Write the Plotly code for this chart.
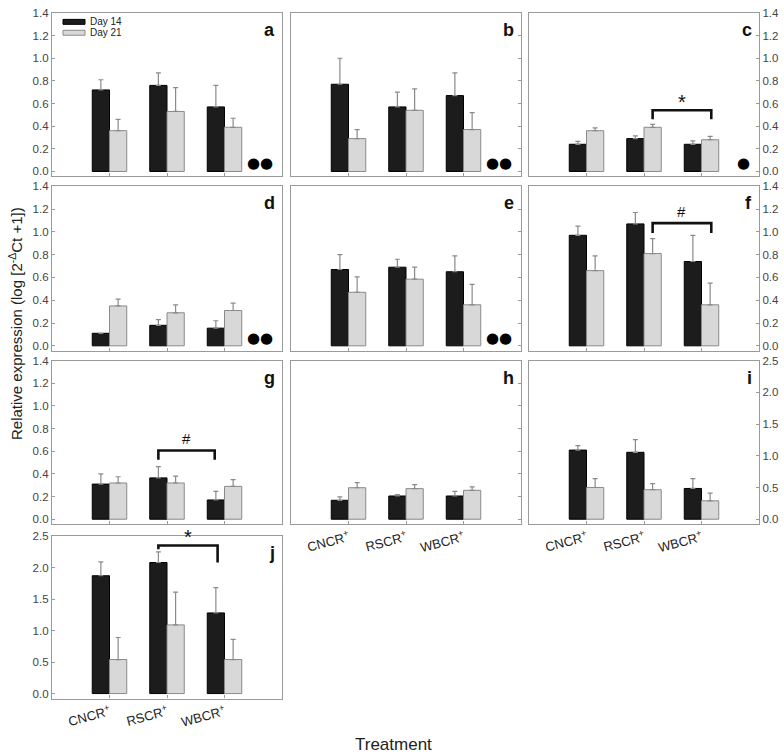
import plotly.graph_objects as go

W, H = 784, 756

# ---------------- data ----------------
tick_text = ["CNCR<sup>+</sup>", "RSCR<sup>+</sup>", "WBCR<sup>+</sup>"]
positions = [0, 1, 2]

a_d14 = [0.72, 0.76, 0.57]; a_d14_err = [0.09, 0.11, 0.19]
a_d21 = [0.36, 0.53, 0.39]; a_d21_err = [0.10, 0.21, 0.08]
b_d14 = [0.77, 0.57, 0.67]; b_d14_err = [0.23, 0.13, 0.20]
b_d21 = [0.29, 0.54, 0.37]; b_d21_err = [0.08, 0.19, 0.15]
c_d14 = [0.24, 0.29, 0.24]; c_d14_err = [0.025, 0.025, 0.03]
c_d21 = [0.36, 0.39, 0.28]; c_d21_err = [0.025, 0.025, 0.03]
d_d14 = [0.11, 0.18, 0.155]; d_d14_err = [0.0, 0.05, 0.065]
d_d21 = [0.35, 0.29, 0.31]; d_d21_err = [0.06, 0.07, 0.065]
e_d14 = [0.67, 0.69, 0.65]; e_d14_err = [0.13, 0.07, 0.14]
e_d21 = [0.47, 0.585, 0.36]; e_d21_err = [0.135, 0.105, 0.18]
f_d14 = [0.97, 1.07, 0.74]; f_d14_err = [0.08, 0.10, 0.23]
f_d21 = [0.66, 0.81, 0.36]; f_d21_err = [0.13, 0.13, 0.19]
g_d14 = [0.31, 0.365, 0.17]; g_d14_err = [0.09, 0.10, 0.075]
g_d21 = [0.32, 0.32, 0.29]; g_d21_err = [0.055, 0.06, 0.06]
h_d14 = [0.167, 0.205, 0.205]; h_d14_err = [0.03, 0.012, 0.04]
h_d21 = [0.278, 0.27, 0.255]; h_d21_err = [0.045, 0.035, 0.03]
i_d14 = [1.09, 1.055, 0.485]; i_d14_err = [0.07, 0.20, 0.155]
i_d21 = [0.50, 0.465, 0.29]; i_d21_err = [0.14, 0.095, 0.12]
j_d14 = [1.87, 2.08, 1.28]; j_d14_err = [0.22, 0.17, 0.40]
j_d21 = [0.54, 1.09, 0.54]; j_d21_err = [0.35, 0.52, 0.32]

panel_letters = ["a", "b", "c", "d", "e", "f", "g", "h", "i", "j"]
panel_data = [
    (a_d14, a_d14_err, a_d21, a_d21_err),
    (b_d14, b_d14_err, b_d21, b_d21_err),
    (c_d14, c_d14_err, c_d21, c_d21_err),
    (d_d14, d_d14_err, d_d21, d_d21_err),
    (e_d14, e_d14_err, e_d21, e_d21_err),
    (f_d14, f_d14_err, f_d21, f_d21_err),
    (g_d14, g_d14_err, g_d21, g_d21_err),
    (h_d14, h_d14_err, h_d21, h_d21_err),
    (i_d14, i_d14_err, i_d21, i_d21_err),
    (j_d14, j_d14_err, j_d21, j_d21_err),
]
panel_ymax = [1.4, 1.4, 1.4, 1.4, 1.4, 1.4, 1.4, 1.4, 2.5, 2.5]
panel_dots = ["●●", "●●", "●", "●●", "●●", "", "", "", "", ""]
panel_xlabels = [False] * 7 + [True, True, True]

# significance brackets: (panel index, x_left, x_right, y_bar, y_left_leg, y_right_leg, symbol)
brackets = [
    (2, 1.15, 2.17, 0.54, 0.46, 0.46, "*"),
    (5, 1.15, 2.17, 1.077, 0.99, 0.99, "#"),
    (6, 0.85, 1.83, 0.607, 0.525, 0.525, "#"),
    (9, 0.85, 1.88, 2.35, 2.29, 2.08, "*"),
]

# ---------------- layout geometry (pixels) ----------------
col_px = [(52, 282), (291, 521), (529, 759)]
row_px = [(7, 172), (182, 348), (358, 523), (535, 699)]
cells = [(0, 0), (0, 1), (0, 2), (1, 0), (1, 1), (1, 2), (2, 0), (2, 1), (2, 2), (3, 0)]


def px_x(p):
    return p / W


def px_y(p):
    return 1 - p / H


FONT = "Liberation Sans, Arial, sans-serif"
FRAME = "#9a9a9a"
BLACK = "#1c1c1c"
GREY = "#d8d8d8"

fig = go.Figure()
layout = dict(
    width=W, height=H, margin=dict(l=0, r=0, t=0, b=0),
    paper_bgcolor="white", plot_bgcolor="white",
    barmode="group", bargap=0.4, bargroupgap=0.0,
    showlegend=False, font=dict(family=FONT, color="#333"),
)
annotations = []
shapes = []

for k, (letter, data) in enumerate(zip(panel_letters, panel_data)):
    n = k + 1
    xa = "x" if n == 1 else f"x{n}"
    ya = "y" if n == 1 else f"y{n}"
    r, c = cells[k]
    d14, d14e, d21, d21e = data
    ymax = panel_ymax[k]
    fig.add_trace(go.Bar(
        x=positions, y=d14, xaxis=xa, yaxis=ya, name="Day 14",
        marker=dict(color=BLACK, line=dict(color="#000", width=1)),
        error_y=dict(type="data", symmetric=False, array=d14e,
                     arrayminus=[0] * 3, color="#8a8a8a", thickness=1.2, width=2.5),
    ))
    fig.add_trace(go.Bar(
        x=positions, y=d21, xaxis=xa, yaxis=ya, name="Day 21",
        marker=dict(color=GREY, line=dict(color="#8a8a8a", width=1)),
        error_y=dict(type="data", symmetric=False, array=d21e,
                     arrayminus=[0] * 3, color="#8a8a8a", thickness=1.2, width=2.5),
    ))
    x0, x1 = col_px[c]
    y0, y1 = row_px[r]
    frame_h = y1 - y0
    unit = (frame_h - 5) / ymax
    ymin = -5 / unit
    key_x = "xaxis" if n == 1 else f"xaxis{n}"
    key_y = "yaxis" if n == 1 else f"yaxis{n}"
    layout[key_x] = dict(
        domain=[px_x(x0), px_x(x1)], anchor=ya, range=[-1, 3],
        tickvals=positions, ticktext=tick_text, ticks="inside", ticklen=3,
        tickcolor=FRAME, showline=True, linecolor=FRAME, linewidth=1.3, mirror=True,
        showgrid=False, zeroline=False, showticklabels=panel_xlabels[k],
        tickangle=-15, tickfont=dict(size=13, color="#222", family=FONT),
    )
    side = "left" if c == 0 else "right"
    dtick = 0.2 if ymax == 1.4 else 0.5
    layout[key_y] = dict(
        domain=[px_y(y1), px_y(y0)], anchor=xa, range=[ymin, ymax],
        tick0=0, dtick=dtick, tickformat=".1f", ticks="inside", ticklen=3,
        tickcolor=FRAME, showline=True, linecolor=FRAME, linewidth=1.3, mirror=True,
        showgrid=False, zeroline=False, showticklabels=(c != 1), side=side,
        tickfont=dict(size=11.5, color="#444", family=FONT),
    )
    # panel letter
    annotations.append(dict(
        text=f"<b>{letter}</b>", xref=f"{xa} domain", yref=f"{ya} domain",
        x=1, y=1, xanchor="right", yanchor="top", xshift=-5, yshift=-5,
        showarrow=False, font=dict(size=18, color="#111", family=FONT),
    ))
    if panel_dots[k]:
        annotations.append(dict(
            text=panel_dots[k], xref=f"{xa} domain", yref=f"{ya} domain",
            x=1, y=0, xanchor="right", yanchor="bottom", xshift=-7, yshift=2,
            showarrow=False, font=dict(size=15, color="#000", family="DejaVu Sans"),
        ))

for (k, xl, xr, yb, yll, ylr, sym) in brackets:
    n = k + 1
    xa = "x" if n == 1 else f"x{n}"
    ya = "y" if n == 1 else f"y{n}"
    shapes.append(dict(
        type="path", xref=xa, yref=ya,
        path=f"M {xl},{yll} L {xl},{yb} L {xr},{yb} L {xr},{ylr}",
        line=dict(color="#111", width=2.6),
    ))
    is_star = sym == "*"
    annotations.append(dict(
        text=sym, xref=xa, yref=ya, x=(xl + xr) / 2, y=yb, yanchor="bottom",
        yshift=(-5 if is_star else 1), showarrow=False,
        font=dict(size=(20 if is_star else 15), color="#111", family=FONT),
    ))

# legend inside panel a
legend_items = [("Day 14", BLACK, "#000", 16), ("Day 21", GREY, "#8a8a8a", 27)]
for label, fill, edge, yc in legend_items:
    shapes.append(dict(
        type="rect", xref="paper", yref="paper",
        x0=px_x(63), x1=px_x(85), y0=px_y(yc + 2.5), y1=px_y(yc - 2.5),
        fillcolor=fill, line=dict(color=edge, width=1),
    ))
    annotations.append(dict(
        text=label, xref="paper", yref="paper", x=px_x(88), y=px_y(yc),
        xanchor="left", yanchor="middle", showarrow=False,
        font=dict(size=10, color="#222", family=FONT),
    ))

# axis titles
annotations.append(dict(
    text="Relative expression (log [2<sup>-Δ</sup>Ct +1])",
    xref="paper", yref="paper", x=px_x(15), y=px_y(321), textangle=-90,
    xanchor="center", yanchor="middle", showarrow=False,
    font=dict(size=15, color="#222", family=FONT),
))
annotations.append(dict(
    text="Treatment", xref="paper", yref="paper", x=px_x(393), y=px_y(745),
    xanchor="center", yanchor="middle", showarrow=False,
    font=dict(size=17, color="#222", family=FONT),
))

layout["annotations"] = annotations
layout["shapes"] = shapes
fig.update_layout(**layout)
fig.write_html("out.html", config={"displayModeBar": False})

# remove the default page margin so the figure fills the 784x756 window
with open("out.html", "r", encoding="utf-8") as fh:
    html = fh.read()
html = html.replace(
    "<head>",
    "<head><style>html,body{margin:0;padding:0;overflow:hidden;}</style>", 1)
with open("out.html", "w", encoding="utf-8") as fh:
    fh.write(html)
